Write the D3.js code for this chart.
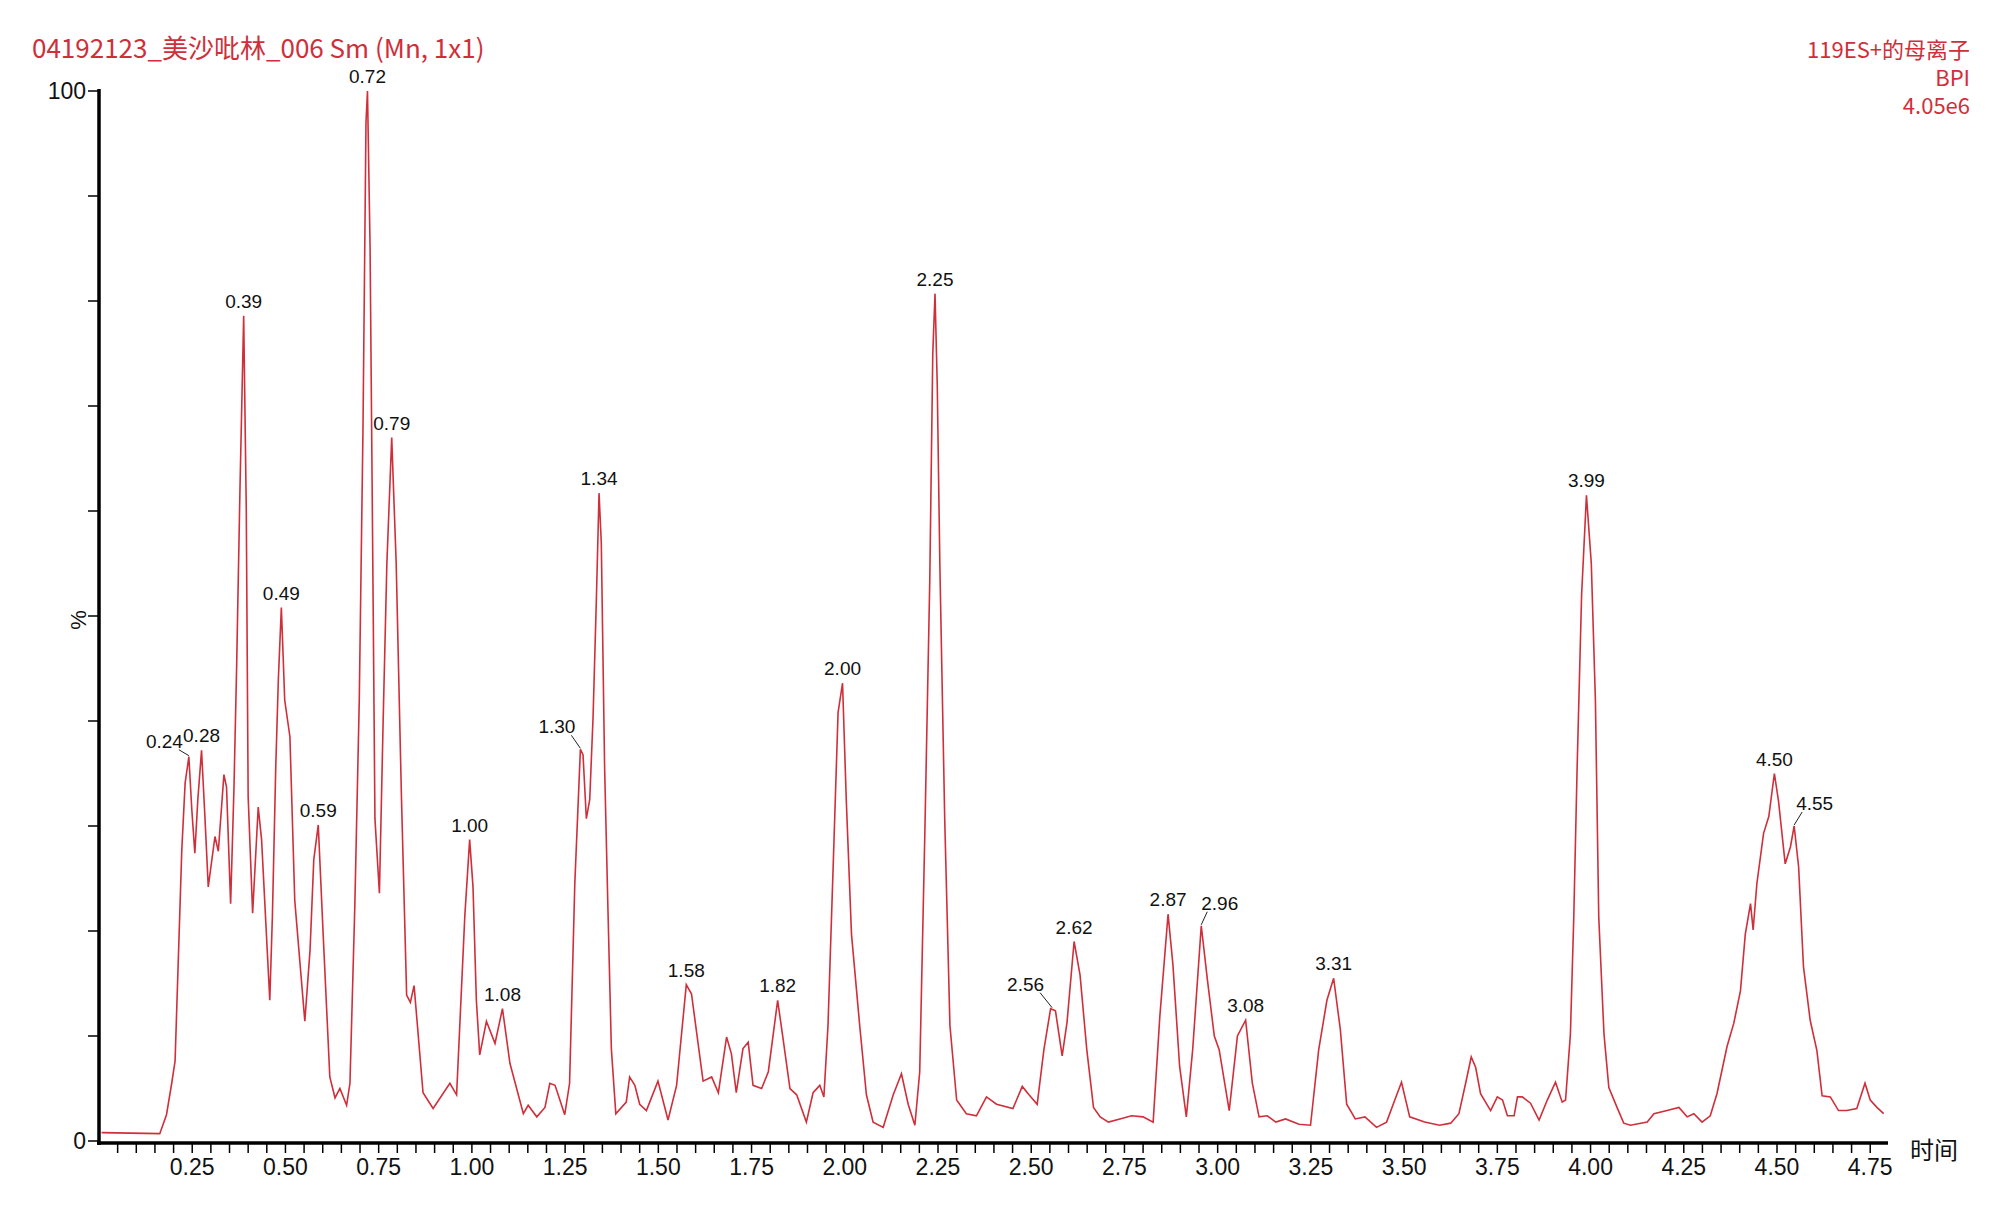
<!DOCTYPE html>
<html>
<head>
<meta charset="utf-8">
<script src="https://cdn.jsdelivr.net/npm/d3@7"></script>
<style>
  body { margin: 0; background: #fff; }
  svg text { font-family: "Liberation Sans", Arial, sans-serif; }
</style>
</head>
<body>
<svg id="chart" width="2000" height="1219"></svg>
<script>
// retention time (min) and relative intensity (%)
const times = [
  0.007, 0.163, 0.181, 0.195, 0.204, 0.213, 0.222, 0.231, 0.241, 0.249, 0.257, 0.265, 0.275, 0.284, 0.293,
  0.311, 0.320, 0.335, 0.342, 0.353, 0.362, 0.369, 0.378, 0.388, 0.395, 0.400, 0.412, 0.427, 0.436, 0.458,
  0.465, 0.474, 0.481, 0.489, 0.494, 0.498, 0.512, 0.525, 0.552, 0.566, 0.576, 0.588, 0.601, 0.619, 0.633,
  0.646, 0.664, 0.673, 0.686, 0.698, 0.708, 0.716, 0.720, 0.727, 0.735, 0.740, 0.752, 0.762, 0.772, 0.785,
  0.797, 0.811, 0.825, 0.835, 0.845, 0.869, 0.896, 0.941, 0.959, 0.981, 0.994, 1.003, 1.012, 1.021, 1.039,
  1.062, 1.082, 1.102, 1.138, 1.151, 1.174, 1.196, 1.209, 1.223, 1.249, 1.262, 1.276, 1.291, 1.298, 1.307,
  1.316, 1.325, 1.334, 1.341, 1.347, 1.356, 1.365, 1.374, 1.386, 1.414, 1.423, 1.437, 1.450, 1.468, 1.499,
  1.526, 1.549, 1.575, 1.589, 1.620, 1.643, 1.661, 1.683, 1.696, 1.709, 1.727, 1.741, 1.754, 1.777, 1.795,
  1.820, 1.835, 1.853, 1.871, 1.897, 1.915, 1.933, 1.944, 1.955, 1.969, 1.982, 1.994, 2.004, 2.018, 2.040,
  2.058, 2.076, 2.103, 2.130, 2.152, 2.170, 2.188, 2.201, 2.215, 2.228, 2.236, 2.242, 2.248, 2.255, 2.268,
  2.282, 2.300, 2.326, 2.353, 2.380, 2.407, 2.451, 2.476, 2.494, 2.516, 2.534, 2.552, 2.565, 2.583, 2.596,
  2.615, 2.631, 2.649, 2.667, 2.685, 2.707, 2.738, 2.769, 2.800, 2.827, 2.845, 2.867, 2.880, 2.898, 2.916,
  2.933, 2.956, 2.973, 2.991, 3.004, 3.031, 3.053, 3.075, 3.093, 3.111, 3.133, 3.156, 3.182, 3.218, 3.249,
  3.271, 3.293, 3.311, 3.329, 3.346, 3.369, 3.395, 3.426, 3.453, 3.475, 3.493, 3.515, 3.555, 3.595, 3.625,
  3.647, 3.665, 3.680, 3.692, 3.705, 3.732, 3.750, 3.764, 3.777, 3.795, 3.804, 3.817, 3.839, 3.862, 3.884,
  3.906, 3.924, 3.933, 3.946, 3.955, 3.964, 3.976, 3.989, 4.002, 4.013, 4.022, 4.036, 4.049, 4.071, 4.089,
  4.107, 4.152, 4.170, 4.205, 4.237, 4.259, 4.277, 4.299, 4.321, 4.339, 4.366, 4.384, 4.402, 4.415, 4.429,
  4.436, 4.446, 4.464, 4.478, 4.493, 4.504, 4.522, 4.536, 4.546, 4.558, 4.571, 4.589, 4.607, 4.621, 4.643,
  4.665, 4.687, 4.714, 4.736, 4.750, 4.768, 4.786
];
const intensity = [
  0.8, 0.7, 2.5, 5.5, 7.6, 17.6, 27.7, 34.1, 36.6, 31.5, 27.4, 32.5, 37.2, 30.9, 24.2,
  29.0, 27.6, 34.9, 33.7, 22.6, 33.7, 45.0, 62.0, 78.6, 60.0, 32.8, 21.7, 31.8, 28.7, 13.4,
  21.4, 35.6, 44.0, 50.8, 46.0, 42.0, 38.5, 22.9, 11.4, 18.2, 26.8, 30.1, 19.8, 6.1, 4.1,
  5.0, 3.4, 5.5, 22.3, 42.0, 68.0, 97.0, 100.0, 85.0, 52.0, 30.7, 23.6, 40.0, 55.0, 67.0,
  55.0, 32.9, 13.9, 13.2, 14.8, 4.6, 3.1, 5.5, 4.4, 21.4, 28.7, 24.2, 13.4, 8.2, 11.4,
  9.3, 12.6, 7.4, 2.6, 3.4, 2.3, 3.2, 5.5, 5.3, 2.5, 5.5, 24.5, 37.3, 36.8, 30.7,
  32.5, 40.4, 51.8, 61.7, 57.0, 35.5, 21.9, 8.8, 2.6, 3.7, 6.1, 5.3, 3.5, 2.9, 5.7,
  2.0, 5.3, 14.9, 14.0, 5.7, 6.1, 4.6, 9.9, 8.3, 4.6, 8.8, 9.4, 5.3, 5.0, 6.6,
  13.4, 9.6, 5.0, 4.4, 1.8, 4.6, 5.3, 4.2, 11.0, 26.3, 40.8, 43.6, 32.5, 19.7, 11.0,
  4.4, 1.8, 1.3, 4.4, 6.4, 3.5, 1.5, 6.6, 29.8, 53.5, 75.0, 80.7, 72.0, 54.8, 30.7,
  11.0, 3.9, 2.6, 2.4, 4.2, 3.5, 3.1, 5.2, 4.4, 3.5, 8.7, 12.6, 12.4, 8.1, 11.3,
  19.0, 15.8, 8.7, 3.2, 2.3, 1.8, 2.1, 2.4, 2.3, 1.8, 11.9, 21.6, 16.8, 7.1, 2.3,
  8.7, 20.5, 15.2, 10.0, 8.7, 2.9, 10.0, 11.5, 5.5, 2.3, 2.4, 1.8, 2.1, 1.6, 1.5,
  8.7, 13.4, 15.5, 10.6, 3.5, 2.1, 2.3, 1.3, 1.8, 3.9, 5.6, 2.3, 1.8, 1.5, 1.7,
  2.6, 5.5, 8.0, 7.0, 4.5, 2.9, 4.2, 3.9, 2.4, 2.4, 4.2, 4.2, 3.6, 2.0, 3.9,
  5.6, 3.7, 3.9, 10.2, 21.3, 35.6, 52.0, 61.5, 55.0, 42.0, 21.3, 10.2, 5.1, 3.2, 1.7,
  1.5, 1.8, 2.6, 2.9, 3.2, 2.3, 2.6, 1.8, 2.4, 4.5, 9.0, 11.2, 14.3, 19.7, 22.6,
  20.1, 24.5, 29.3, 30.9, 35.0, 32.4, 26.4, 28.0, 30.0, 26.1, 16.6, 11.5, 8.6, 4.3, 4.2,
  2.9, 2.9, 3.1, 5.5, 3.9, 3.2, 2.6
];

// labelled peaks
const peakLabels = ["0.24", "0.28", "0.39", "0.49", "0.59", "0.72", "0.79", "1.00", "1.08", "1.30", "1.34", "1.58",
  "1.82", "2.00", "2.25", "2.56", "2.62", "2.87", "2.96", "3.08", "3.31", "3.99", "4.50", "4.55"];
const peakTimes = [0.241, 0.275, 0.388, 0.489, 0.588, 0.720, 0.785, 0.994, 1.082, 1.291, 1.341, 1.575,
  1.820, 1.994, 2.242, 2.556, 2.615, 2.867, 2.956, 3.075, 3.311, 3.989, 4.493, 4.546];
const peakHeights = [36.6, 37.2, 78.6, 50.8, 30.1, 100, 67, 28.7, 12.6, 37.3, 61.7, 14.9,
  13.4, 43.6, 80.7, 12.6, 19, 21.6, 20.5, 11.5, 15.5, 61.5, 35, 30];

const xTicks = [0.25, 0.5, 0.75, 1, 1.25, 1.5, 1.75, 2, 2.25, 2.5, 2.75, 3, 3.25, 3.5, 3.75, 4, 4.25, 4.5, 4.75];

const red = "#cf2f3a";
const svg = d3.select("#chart");
const x = d3.scaleLinear().domain([0, 4.795]).range([99, 1887]);
const y = d3.scaleLinear().domain([0, 100]).range([1141, 91]);

// trace
svg.append("path")
  .datum(times.map((t, i) => [t, intensity[i]]))
  .attr("fill", "none")
  .attr("stroke", red)
  .attr("stroke-width", 1.6)
  .attr("d", d3.line().x(d => x(d[0])).y(d => y(d[1])));

// x axis
const xAxis = svg.append("g").attr("transform", "translate(0,1143)");
xAxis.append("line").attr("x1", 97).attr("x2", 1888).attr("stroke", "#000").attr("stroke-width", 3.5);
xAxis.selectAll(".minor").data(d3.range(1, 96).map(i => i * 0.05))
  .join("line")
  .attr("x1", d => x(d)).attr("x2", d => x(d))
  .attr("y1", 0).attr("y2", 10)
  .attr("stroke", "#000").attr("stroke-width", 1.5);
xAxis.selectAll(".lbl").data(xTicks)
  .join("text")
  .attr("x", d => x(d)).attr("y", 32)
  .attr("text-anchor", "middle")
  .attr("font-size", 23)
  .attr("fill", "#111")
  .text(d => d.toFixed(2));
svg.append("text").attr("x", 1910).attr("y", 1159)
  .attr("font-size", 24).attr("fill", "#111")
  .style("font-family", "'Noto Sans CJK SC'")
  .text("时间");

// y axis
const yAxis = svg.append("g");
yAxis.append("line").attr("x1", 99).attr("x2", 99).attr("y1", 89).attr("y2", 1145)
  .attr("stroke", "#000").attr("stroke-width", 3.5);
yAxis.selectAll(".yt").data(d3.range(0, 101, 10))
  .join("line")
  .attr("x1", 88).attr("x2", 99)
  .attr("y1", d => y(d)).attr("y2", d => y(d))
  .attr("stroke", "#000").attr("stroke-width", 1.5);
yAxis.selectAll(".yl").data([0, 100])
  .join("text")
  .attr("x", 86).attr("y", d => y(d) + 8)
  .attr("text-anchor", "end")
  .attr("font-size", 23).attr("fill", "#111")
  .text(d => d);
svg.append("text")
  .attr("transform", "translate(86,620) rotate(-90)")
  .attr("text-anchor", "middle")
  .attr("font-size", 22).attr("fill", "#111")
  .text("%");

// peak labels; leader-line offsets for the crowded ones
const leader = { "0.24": [-10, -7], "1.30": [-9, -14], "2.56": [-12, -16], "2.96": [6, -14], "4.55": [8, -14] };
peakLabels.forEach((lab, i) => {
  const px = x(peakTimes[i]), py = y(peakHeights[i]);
  const off = leader[lab];
  if (off) {
    const lx = px + off[0], ly = py + off[1];
    svg.append("line").attr("x1", px).attr("y1", py - 1).attr("x2", lx).attr("y2", ly)
      .attr("stroke", "#222").attr("stroke-width", 1);
    svg.append("text").attr("x", off[0] < 0 ? lx + 4 : lx - 6).attr("y", ly - 2)
      .attr("text-anchor", off[0] < 0 ? "end" : "start")
      .attr("font-size", 19).attr("fill", "#111").text(lab);
  } else {
    svg.append("text").attr("x", px).attr("y", py - 8)
      .attr("text-anchor", "middle")
      .attr("font-size", 19).attr("fill", "#111").text(lab);
  }
});

// header texts
svg.append("text").attr("x", 32).attr("y", 58)
  .attr("font-size", 26).attr("fill", red)
  .style("font-family", "'Noto Sans CJK SC'")
  .text("04192123_美沙吡林_006 Sm (Mn, 1x1)");
[["119ES+的母离子", 58], ["BPI", 86], ["4.05e6", 114]].forEach(d => {
  svg.append("text").attr("x", 1970).attr("y", d[1])
    .attr("text-anchor", "end")
    .attr("font-size", 22).attr("fill", red)
    .style("font-family", "'Noto Sans CJK SC'")
    .text(d[0]);
});
</script>
</body>
</html>
